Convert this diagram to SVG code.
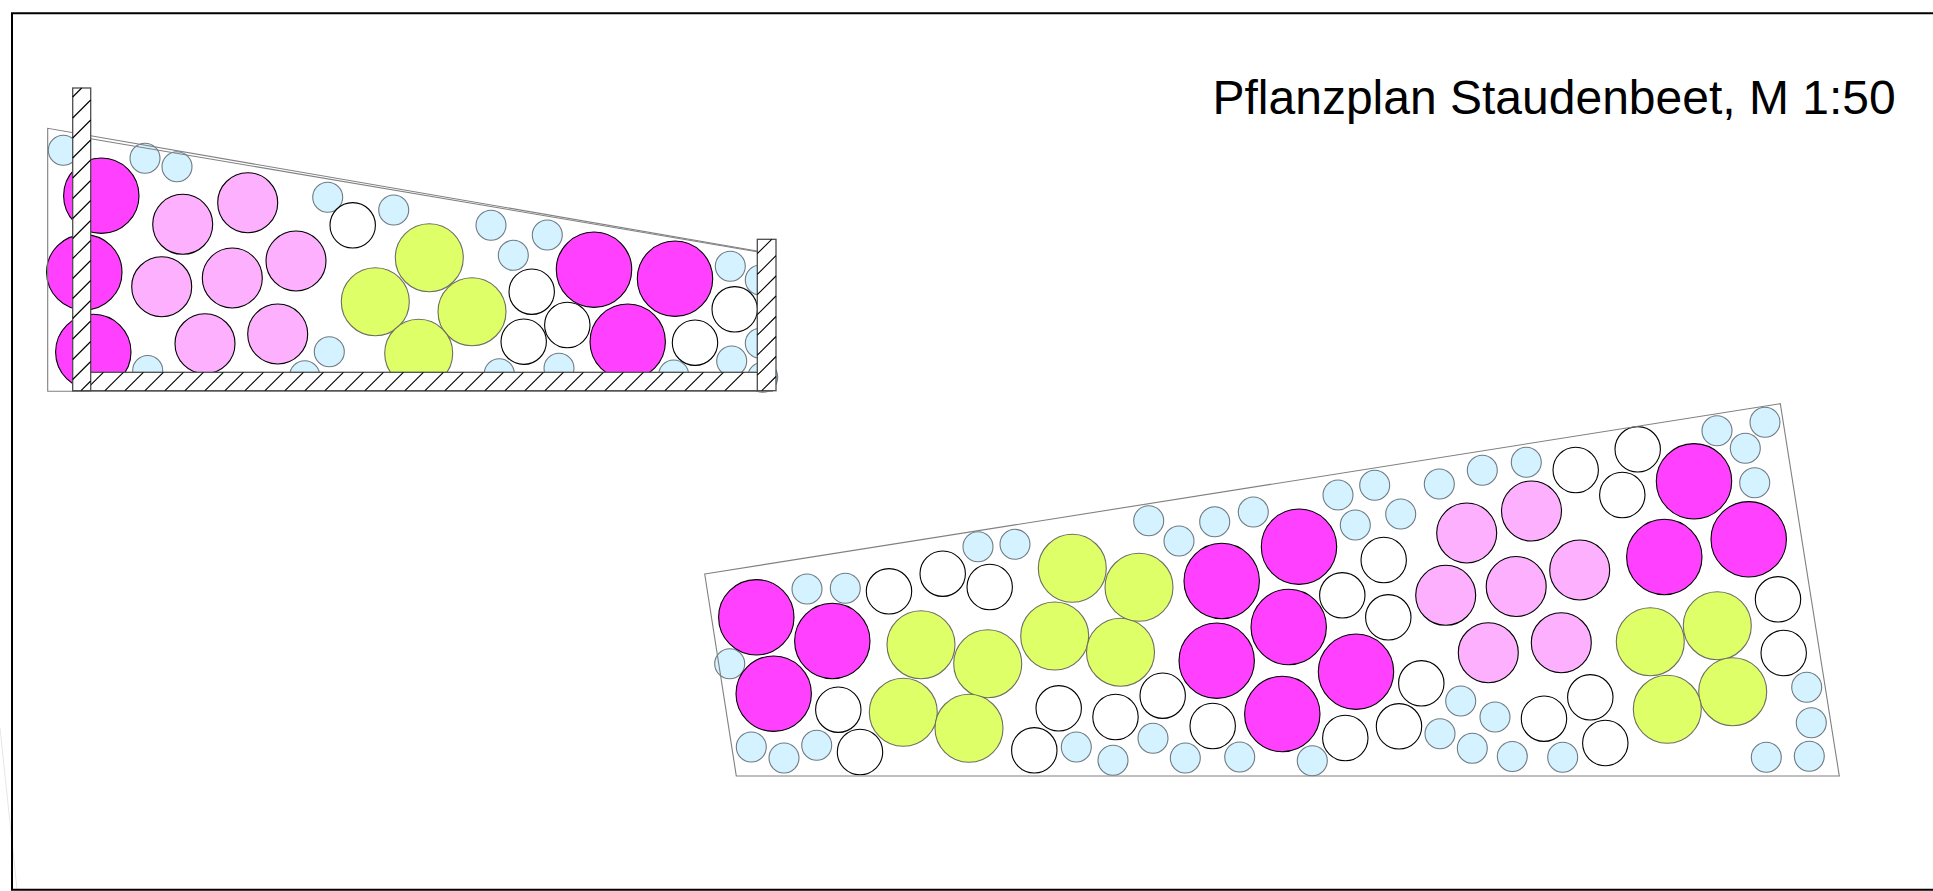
<svg xmlns="http://www.w3.org/2000/svg" width="1933" height="891" viewBox="0 0 1933 891">
<style>
.bg{fill:#fff}
.frame{fill:none;stroke:#000;stroke-width:2}
.faint{fill:none;stroke:#e6e6e6;stroke-width:1}
.bed{fill:none;stroke:#808080;stroke-width:1.1}
.m{fill:#ff40ff;stroke:#000;stroke-width:1.1}
.p{fill:#fdb0fd;stroke:#000;stroke-width:1.1}
.g{fill:#deff68;stroke:#6e6e60;stroke-width:1.1}
.w{fill:#fff;stroke:#000;stroke-width:1.1}
.b{fill:#d4f2ff;stroke:#6f7b82;stroke-width:1.1}
.wall{fill:#fff;stroke:#4d4d4d;stroke-width:1.3}
.hatch{fill:none;stroke:#000;stroke-width:1.1}
.title{font-family:"Liberation Sans",Arial,sans-serif;font-size:48px;fill:#000}
</style>
<rect class="bg" width="1933" height="891"/>
<path class="faint" d="M0 728L17 889"/>
<path class="frame" d="M1933 13.3H12V889.7H1933"/>
<g id="section-plants">
<circle class="b" cx="63.3" cy="150.3" r="15"/><circle class="b" cx="145" cy="158.3" r="15"/><circle class="b" cx="177" cy="166.7" r="15"/><circle class="b" cx="327.7" cy="197.3" r="15"/><circle class="b" cx="393.7" cy="210" r="15"/><circle class="b" cx="329.3" cy="351.7" r="15"/><circle class="b" cx="147.7" cy="370.5" r="15"/><circle class="b" cx="304.7" cy="375.7" r="15"/><circle class="b" cx="491" cy="225.3" r="15"/><circle class="b" cx="513.3" cy="255.3" r="15"/><circle class="b" cx="547.3" cy="235" r="15"/><circle class="b" cx="730.3" cy="266.3" r="15"/><circle class="b" cx="760.3" cy="280" r="15"/><circle class="b" cx="760.3" cy="343.3" r="15"/><circle class="b" cx="731.7" cy="361" r="15"/><circle class="b" cx="762.7" cy="377.3" r="15"/><circle class="b" cx="499.3" cy="373.7" r="15"/><circle class="b" cx="559" cy="368.3" r="15"/><circle class="b" cx="673.7" cy="375" r="15"/>
<circle class="m" cx="101.3" cy="195.7" r="37.7"/><circle class="m" cx="84.3" cy="272.3" r="37.7"/><circle class="m" cx="93.3" cy="352" r="37.7"/><circle class="m" cx="594" cy="269.7" r="37.7"/><circle class="m" cx="675" cy="278.7" r="37.7"/><circle class="m" cx="627.7" cy="341.7" r="37.7"/>
<circle class="p" cx="182.7" cy="224.3" r="30"/><circle class="p" cx="247.7" cy="202.7" r="30"/><circle class="p" cx="161.7" cy="286.7" r="30"/><circle class="p" cx="232.3" cy="278" r="30"/><circle class="p" cx="296" cy="261" r="30"/><circle class="p" cx="205" cy="343.7" r="30"/><circle class="p" cx="277.7" cy="334" r="30"/>
<circle class="w" cx="352.7" cy="225.3" r="22.7"/><circle class="w" cx="531.7" cy="291.7" r="22.7"/><circle class="w" cx="523.7" cy="341.7" r="22.7"/><circle class="w" cx="567.3" cy="325" r="22.7"/><circle class="w" cx="695" cy="342.7" r="22.7"/><circle class="w" cx="734.7" cy="309.3" r="22.7"/>
<circle class="g" cx="375.3" cy="301.7" r="34"/><circle class="g" cx="429.3" cy="257.7" r="34"/><circle class="g" cx="472" cy="311.7" r="34"/><circle class="g" cx="418.7" cy="353.3" r="34"/>
</g>
<g id="section-outline">
<path class="bed" d="M757 251L47.7 128.3V391.3H773"/>
<path class="bed" d="M73 135.7L757 251.7"/>
</g>
<g id="section-walls">
<rect class="wall" x="72.7" y="372.3" width="685" height="18.4"/>
<path class="hatch" d="M103.4 372.3l-18.4 18.4M123.4 372.3l-18.4 18.4M143.4 372.3l-18.4 18.4M163.4 372.3l-18.4 18.4M183.4 372.3l-18.4 18.4M203.4 372.3l-18.4 18.4M223.4 372.3l-18.4 18.4M243.4 372.3l-18.4 18.4M263.4 372.3l-18.4 18.4M283.4 372.3l-18.4 18.4M303.4 372.3l-18.4 18.4M323.4 372.3l-18.4 18.4M343.4 372.3l-18.4 18.4M363.4 372.3l-18.4 18.4M383.4 372.3l-18.4 18.4M403.4 372.3l-18.4 18.4M423.4 372.3l-18.4 18.4M443.4 372.3l-18.4 18.4M463.4 372.3l-18.4 18.4M483.4 372.3l-18.4 18.4M503.4 372.3l-18.4 18.4M523.4 372.3l-18.4 18.4M543.4 372.3l-18.4 18.4M563.4 372.3l-18.4 18.4M583.4 372.3l-18.4 18.4M603.4 372.3l-18.4 18.4M623.4 372.3l-18.4 18.4M643.4 372.3l-18.4 18.4M663.4 372.3l-18.4 18.4M683.4 372.3l-18.4 18.4M703.4 372.3l-18.4 18.4M723.4 372.3l-18.4 18.4M743.4 372.3l-18.4 18.4"/>
<rect class="wall" x="72.7" y="88" width="18" height="302.7"/>
<path class="hatch" d="M81.7 88l-9 9M90.7 100l-18 18M90.7 120l-18 18M90.7 140l-18 18M90.7 160l-18 18M90.7 180.5l-18 18M90.7 200.5l-18 18M90.7 220.5l-18 18M90.7 240.5l-18 18M90.7 260.5l-18 18M90.7 280.5l-18 18M90.7 300.5l-18 18M90.7 321l-18 18M90.7 341.5l-18 18M90.7 361.5l-18 18M90.7 381l-9.7 9.7"/>
<rect class="wall" x="757.3" y="239.3" width="18.7" height="151.4"/>
<path class="hatch" d="M771.7 239.3l-14.4 14.4M776 255.7l-18.7 18.7M776 276l-18.7 18.7M776 296l-18.7 18.7M776 316.5l-18.7 18.7M776 336.5l-18.7 18.7M776 356.5l-18.7 18.7M776 376.5l-14.2 14.2"/>
</g>
<g id="plan-plants">
<circle class="b" cx="807" cy="589" r="15"/><circle class="b" cx="845.3" cy="588.3" r="15"/><circle class="b" cx="729.7" cy="663.7" r="15"/><circle class="b" cx="751.3" cy="747" r="15"/><circle class="b" cx="784" cy="758" r="15"/><circle class="b" cx="816.7" cy="745.3" r="15"/><circle class="b" cx="978" cy="546.7" r="15"/><circle class="b" cx="1015" cy="544.3" r="15"/><circle class="b" cx="1076.3" cy="747" r="15"/><circle class="b" cx="1113" cy="760.3" r="15"/><circle class="b" cx="1148.7" cy="520.7" r="15"/><circle class="b" cx="1179" cy="541" r="15"/><circle class="b" cx="1214.7" cy="521.7" r="15"/><circle class="b" cx="1253.3" cy="512" r="15"/><circle class="b" cx="1338" cy="495" r="15"/><circle class="b" cx="1374.7" cy="485.3" r="15"/><circle class="b" cx="1355.3" cy="525" r="15"/><circle class="b" cx="1400.7" cy="514" r="15"/><circle class="b" cx="1439.3" cy="484" r="15"/><circle class="b" cx="1482.3" cy="470.3" r="15"/><circle class="b" cx="1526.3" cy="462.3" r="15"/><circle class="b" cx="1153" cy="738.3" r="15"/><circle class="b" cx="1185.3" cy="758" r="15"/><circle class="b" cx="1239.7" cy="757" r="15"/><circle class="b" cx="1312.3" cy="760.7" r="15"/><circle class="b" cx="1460.7" cy="701" r="15"/><circle class="b" cx="1495" cy="717" r="15"/><circle class="b" cx="1440" cy="733.7" r="15"/><circle class="b" cx="1472.3" cy="748.3" r="15"/><circle class="b" cx="1512.3" cy="756.5" r="15"/><circle class="b" cx="1717" cy="430.7" r="15"/><circle class="b" cx="1765" cy="422.3" r="15"/><circle class="b" cx="1745.3" cy="448.3" r="15"/><circle class="b" cx="1754.7" cy="482.7" r="15"/><circle class="b" cx="1806.7" cy="687.3" r="15"/><circle class="b" cx="1811.3" cy="722.7" r="15"/><circle class="b" cx="1809.3" cy="756.3" r="15"/><circle class="b" cx="1766.3" cy="757.3" r="15"/><circle class="b" cx="1562.7" cy="757.3" r="15"/>
<circle class="w" cx="889" cy="591.3" r="22.7"/><circle class="w" cx="942.7" cy="573.7" r="22.7"/><circle class="w" cx="989.7" cy="587" r="22.7"/><circle class="w" cx="838.3" cy="709.7" r="22.7"/><circle class="w" cx="860" cy="752" r="22.7"/><circle class="w" cx="1058.7" cy="708.3" r="22.7"/><circle class="w" cx="1034.3" cy="750.3" r="22.7"/><circle class="w" cx="1115.5" cy="717" r="22.7"/><circle class="w" cx="1383.7" cy="560" r="22.7"/><circle class="w" cx="1342.3" cy="595.3" r="22.7"/><circle class="w" cx="1388.3" cy="617.3" r="22.7"/><circle class="w" cx="1421.3" cy="683.3" r="22.7"/><circle class="w" cx="1162.7" cy="695.7" r="22.7"/><circle class="w" cx="1212.7" cy="726" r="22.7"/><circle class="w" cx="1345.3" cy="738" r="22.7"/><circle class="w" cx="1399" cy="726.3" r="22.7"/><circle class="w" cx="1575.7" cy="470" r="22.7"/><circle class="w" cx="1637.7" cy="449.3" r="22.7"/><circle class="w" cx="1622.3" cy="495" r="22.7"/><circle class="w" cx="1778" cy="599.3" r="22.7"/><circle class="w" cx="1783.7" cy="653" r="22.7"/><circle class="w" cx="1590.3" cy="697.3" r="22.7"/><circle class="w" cx="1544" cy="718.7" r="22.7"/><circle class="w" cx="1605.3" cy="743" r="22.7"/>
<circle class="m" cx="756.3" cy="617.3" r="37.7"/><circle class="m" cx="832.3" cy="641" r="37.7"/><circle class="m" cx="773.7" cy="693.7" r="37.7"/><circle class="m" cx="1221.7" cy="581" r="37.7"/><circle class="m" cx="1299" cy="546.7" r="37.7"/><circle class="m" cx="1288.7" cy="627" r="37.7"/><circle class="m" cx="1216.7" cy="660.7" r="37.7"/><circle class="m" cx="1356" cy="671.7" r="37.7"/><circle class="m" cx="1282.3" cy="714" r="37.7"/><circle class="m" cx="1694" cy="481.3" r="37.7"/><circle class="m" cx="1664.3" cy="557" r="37.7"/><circle class="m" cx="1748.7" cy="539.3" r="37.7"/>
<circle class="g" cx="921" cy="644.7" r="34"/><circle class="g" cx="987.7" cy="663.7" r="34"/><circle class="g" cx="903.3" cy="712.3" r="34"/><circle class="g" cx="969" cy="728.3" r="34"/><circle class="g" cx="1072.3" cy="568.3" r="34"/><circle class="g" cx="1054.7" cy="636" r="34"/><circle class="g" cx="1120.5" cy="652.2" r="34"/><circle class="g" cx="1139" cy="587.3" r="34"/><circle class="g" cx="1650.3" cy="641.7" r="34"/><circle class="g" cx="1717.3" cy="625.7" r="34"/><circle class="g" cx="1732.7" cy="691.7" r="34"/><circle class="g" cx="1667.3" cy="709.3" r="34"/>
<circle class="p" cx="1466.7" cy="533" r="30"/><circle class="p" cx="1531.5" cy="511" r="30"/><circle class="p" cx="1445.7" cy="595.3" r="30"/><circle class="p" cx="1516.2" cy="586.5" r="30"/><circle class="p" cx="1488.3" cy="652.7" r="30"/><circle class="p" cx="1579.7" cy="570" r="30"/><circle class="p" cx="1561.3" cy="642.7" r="30"/>
</g>
<g id="plan-outline"><path class="bed" d="M704.7 574L1780.3 403.7L1839.3 776H736.3Z"/></g>
<text class="title" x="1212.5" y="114">Pflanzplan Staudenbeet, M 1:50</text>
</svg>
